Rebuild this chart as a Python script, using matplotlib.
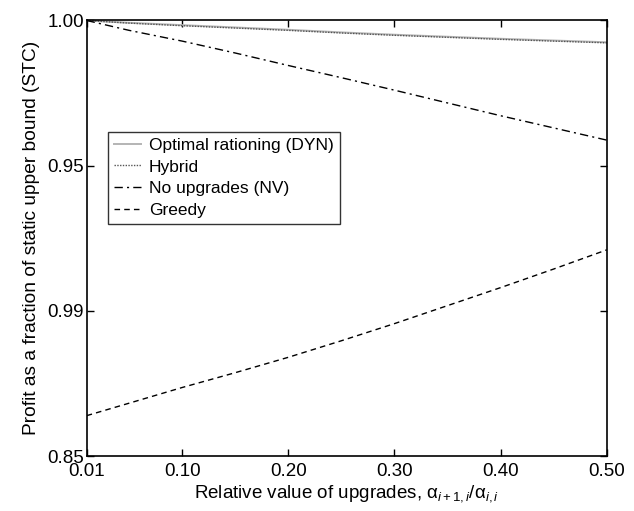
import matplotlib
matplotlib.use('Agg')
import matplotlib.pyplot as plt

# Values
x_vals = [0.01, 0.05, 0.10, 0.15, 0.20, 0.25, 0.30, 0.35, 0.40, 0.45, 0.50]
dyn = [1.0000, 0.9992, 0.9984, 0.9976, 0.9968, 0.9959, 0.9951, 0.9944, 0.9937, 0.9931, 0.9925]
hybrid = [1.0000, 0.9991, 0.9982, 0.9974, 0.9966, 0.9957, 0.9949, 0.9942, 0.9935, 0.9929, 0.9923]
nv = [1.0000, 0.9966, 0.9929, 0.9888, 0.9845, 0.9803, 0.9760, 0.9716, 0.9672, 0.9630, 0.9588]
greedy = [0.8639, 0.8682, 0.8736, 0.8787, 0.8840, 0.8897, 0.8956, 0.9018, 0.9080, 0.9144, 0.9210]

x_ticks = [0.01, 0.10, 0.20, 0.30, 0.40, 0.50]
x_ticklabels = ['0.01', '0.10', '0.20', '0.30', '0.40', '0.50']
y_ticks = [0.85, 0.90, 0.95, 1.00]
y_ticklabels = ['0.85', '0.99', '0.95', '1.00']

plt.rcParams['font.family'] = ['Liberation Sans', 'DejaVu Sans']
plt.rcParams['mathtext.fontset'] = 'custom'
plt.rcParams['mathtext.rm'] = 'Liberation Sans'
plt.rcParams['mathtext.it'] = 'Liberation Sans:italic'

fig = plt.figure(figsize=(6.34, 5.11), dpi=100)
ax = fig.add_axes([0.1367, 0.1076, 0.8203, 0.8523])

ax.plot(x_vals, dyn, color='#b4b4b4', lw=1.4, ls='-', label='Optimal rationing (DYN)')
ax.plot(x_vals, hybrid, color='#555555', lw=1.0, ls=(0, (1, 1)), label='Hybrid')
ax.plot(x_vals, nv, color='black', lw=1.0, ls=(0, (6, 3, 1.5, 3)), label='No upgrades (NV)')
ax.plot(x_vals, greedy, color='black', lw=1.0, ls=(0, (4, 3)), label='Greedy')

ax.set_xlim(0.01, 0.50)
ax.set_ylim(0.85, 1.00)
ax.set_xticks(x_ticks)
ax.set_xticklabels(x_ticklabels)
ax.set_yticks(y_ticks)
ax.set_yticklabels(y_ticklabels)
ax.tick_params(direction='in', top=True, right=True, length=5, width=1,
               labelsize=13.5)
ax.tick_params(axis='x', pad=5)
ax.tick_params(axis='y', pad=2)
for s in ax.spines.values():
    s.set_linewidth(1.2)

ax.set_xlabel(r'Relative value of upgrades, $\mathrm{\alpha}_{i+1,i}/\mathrm{\alpha}_{i,i}$',
              fontsize=13.5, labelpad=2)
ax.set_ylabel('Profit as a fraction of static upper bound (STC)', fontsize=13.8, labelpad=5)

leg = ax.legend(loc='upper left', bbox_to_anchor=(0.041, 0.745), fontsize=12.5,
                frameon=True, fancybox=False, edgecolor='black', handlelength=1.55,
                borderpad=0.35, labelspacing=0.38, handletextpad=0.45, borderaxespad=0)
leg.get_frame().set_linewidth(1.0)

fig.savefig('out.png', dpi=100)
